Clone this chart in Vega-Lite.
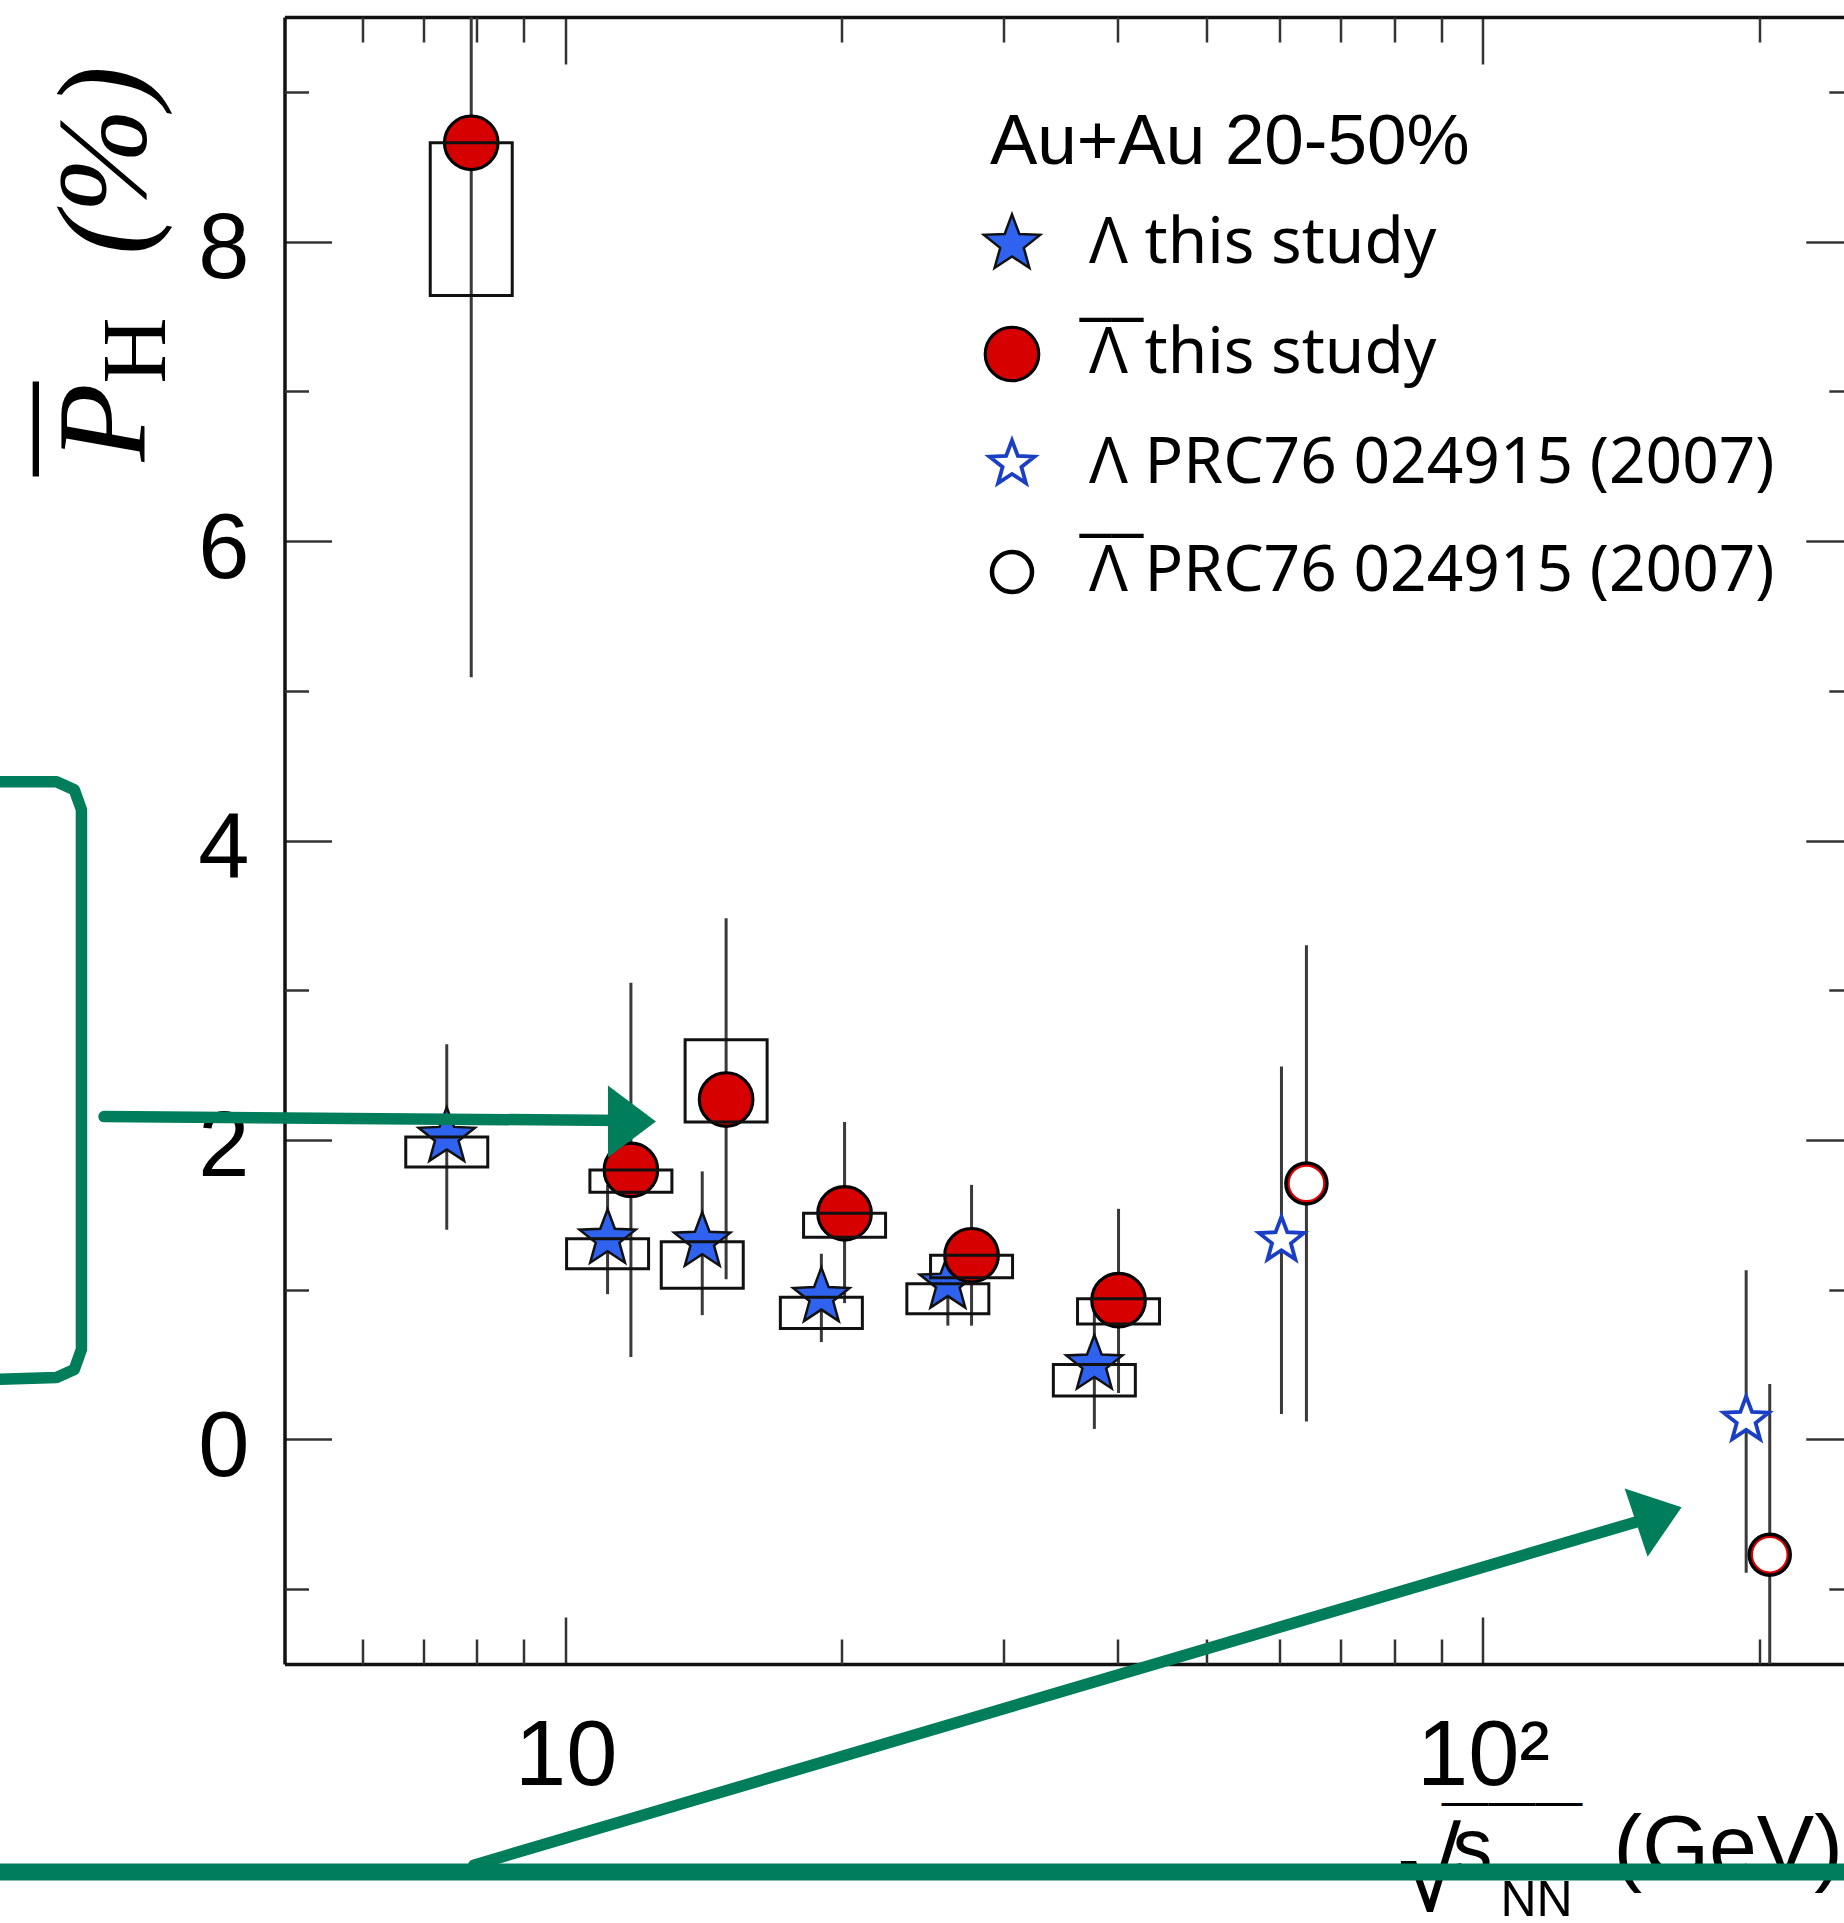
{
  "$schema": "https://vega.github.io/schema/vega-lite/v6.json",
  "autosize": {"type": "none"},
  "padding": {"left": 284.5, "top": 17, "right": 0, "bottom": 259},
  "width": 1559.5,
  "height": 1647,
  "background": "white",
  "datasets": {
    "pts": [
      {"series": "Λ this study", "e": 7.42, "P": 2.02, "lo": 1.40, "hi": 2.64, "slo": 1.82, "shi": 2.02},
      {"series": "Λ this study", "e": 11.11, "P": 1.34, "lo": 0.97, "hi": 1.70, "slo": 1.14, "shi": 1.34},
      {"series": "Λ this study", "e": 14.09, "P": 1.32, "lo": 0.83, "hi": 1.79, "slo": 1.01, "shi": 1.32},
      {"series": "Λ this study", "e": 19.0, "P": 0.95, "lo": 0.65, "hi": 1.24, "slo": 0.74, "shi": 0.95},
      {"series": "Λ this study", "e": 26.1, "P": 1.04, "lo": 0.76, "hi": 1.31, "slo": 0.84, "shi": 1.04},
      {"series": "Λ this study", "e": 37.7, "P": 0.50, "lo": 0.07, "hi": 0.92, "slo": 0.29, "shi": 0.50},
      {"series": "Λ̄ this study", "e": 7.89, "P": 8.66, "lo": 5.09, "hi": 12.23, "slo": 7.64, "shi": 8.66},
      {"series": "Λ̄ this study", "e": 11.78, "P": 1.80, "lo": 0.55, "hi": 3.05, "slo": 1.65, "shi": 1.80},
      {"series": "Λ̄ this study", "e": 14.96, "P": 2.27, "lo": 1.07, "hi": 3.48, "slo": 2.12, "shi": 2.67},
      {"series": "Λ̄ this study", "e": 20.14, "P": 1.51, "lo": 0.91, "hi": 2.12, "slo": 1.35, "shi": 1.51},
      {"series": "Λ̄ this study", "e": 27.7, "P": 1.23, "lo": 0.76, "hi": 1.70, "slo": 1.08, "shi": 1.23},
      {"series": "Λ̄ this study", "e": 40.06, "P": 0.93, "lo": 0.31, "hi": 1.54, "slo": 0.77, "shi": 0.94},
      {"series": "Λ PRC76 024915 (2007)", "e": 60.3, "P": 1.33, "lo": 0.17, "hi": 2.49},
      {"series": "Λ PRC76 024915 (2007)", "e": 193.6, "P": 0.13, "lo": -0.89, "hi": 1.13},
      {"series": "Λ̄ PRC76 024915 (2007)", "e": 64.2, "P": 1.71, "lo": 0.12, "hi": 3.30},
      {"series": "Λ̄ PRC76 024915 (2007)", "e": 205.4, "P": -0.77, "lo": -1.92, "hi": 0.37}
    ],
    "notes": [
      {"piece": "bracket", "k": 0, "e": 2.40, "P": 4.393},
      {"piece": "bracket", "k": 1, "e": 2.786, "P": 4.393},
      {"piece": "bracket", "k": 2, "e": 2.913, "P": 4.339},
      {"piece": "bracket", "k": 3, "e": 2.966, "P": 4.206},
      {"piece": "bracket", "k": 4, "e": 2.966, "P": 0.601},
      {"piece": "bracket", "k": 5, "e": 2.913, "P": 0.467},
      {"piece": "bracket", "k": 6, "e": 2.786, "P": 0.414},
      {"piece": "bracket", "k": 7, "e": 2.40, "P": 0.401},
      {"piece": "shaft1", "k": 0, "e": 3.139, "P": 2.156},
      {"piece": "shaft1", "k": 1, "e": 11.60, "P": 2.13},
      {"piece": "shaft2", "k": 0, "e": 7.94, "P": -2.844},
      {"piece": "shaft2", "k": 1, "e": 148.8, "P": -0.541}
    ],
    "baseline": [
      {"k": 0, "e": 2.40, "P": -2.89},
      {"k": 1, "e": 255, "P": -2.89}
    ],
    "heads": [
      {"which": "a", "e": 11.81, "P": 2.123},
      {"which": "b", "e": 155.5, "P": -0.504}
    ]
  },
  "layer": [
    {
      "description": "zero reference line",
      "mark": {"type": "rule", "stroke": "#555555", "strokeWidth": 3, "strokeDash": [10, 10]},
      "encoding": {
        "y": {
          "datum": 0, "type": "quantitative",
          "scale": {"domain": [-1.5, 9.5], "nice": false, "zero": false},
          "axis": {
            "orient": "left", "values": [0, 2, 4, 6, 8], "tickSize": -47, "labelPadding": 82.5,
            "labelFontSize": 92, "labelOffset": 8, "domain": true,
            "title": "(%)", "titleFont": "Liberation Serif", "titleFontStyle": "italic", "titleFontSize": 126,
            "titleAngle": -90, "titleAlign": "center", "titleBaseline": "alphabetic", "titleX": -140.5, "titleY": 143
          }
        }
      }
    },
    {
      "description": "statistical error bars",
      "data": {"name": "pts"},
      "mark": {"type": "rule", "stroke": "#3a3a3a", "strokeWidth": 3, "clip": true},
      "encoding": {
        "x": {
          "field": "e", "type": "quantitative",
          "scale": {"type": "log", "domain": [5, 244.4], "nice": false},
          "axis": {
            "orient": "bottom", "values": [10, 100], "tickSize": -47, "labelPadding": 94, "labelFontSize": 92,
            "labelExpr": "datum.value == 10 ? '10' : (datum.value == 100 ? '10²' : '')", "domain": true,
            "title": "(GeV)", "titleFont": "Liberation Sans", "titleFontSize": 86, "titleAngle": 0,
            "titleAlign": "left", "titleBaseline": "alphabetic", "titleX": 1328.5, "titleY": 210
          }
        },
        "y": {
          "field": "lo", "type": "quantitative",
          "scale": {"domain": [-1.5, 9.5], "nice": false, "zero": false},
          "axis": {
            "orient": "left", "values": [-1, 1, 3, 5, 7, 9], "tickSize": -24, "labels": false, "domain": false,
            "title": "H", "titleFont": "Liberation Serif", "titleFontSize": 92, "titleAngle": -90,
            "titleAlign": "center", "titleBaseline": "alphabetic", "titleX": -120.5, "titleY": 333
          }
        },
        "y2": {"field": "hi"}
      }
    },
    {
      "description": "markers, one shape and colour per series",
      "data": {"name": "pts"},
      "mark": {"type": "point", "filled": true, "opacity": 1},
      "encoding": {
        "x": {
          "field": "e", "type": "quantitative",
          "scale": {"type": "log", "domain": [5, 244.4], "nice": false},
          "axis": {
            "orient": "top", "values": [10, 100], "tickSize": -47, "labels": false, "domain": true,
            "title": "s", "titleFont": "Liberation Sans", "titleFontSize": 80, "titleAngle": 0,
            "titleAlign": "left", "titleBaseline": "alphabetic", "titleX": 1167.5, "titleY": 1856
          }
        },
        "y": {
          "field": "P", "type": "quantitative",
          "scale": {"domain": [-1.5, 9.5], "nice": false, "zero": false},
          "axis": {"orient": "right", "offset": 8.8, "values": [-1, 1, 3, 5, 7, 9], "tickSize": -24, "labels": false, "domain": false, "title": null}
        },
        "shape": {
          "field": "series", "type": "nominal", "title": "Au+Au 20-50%",
          "scale": {
            "domain": ["Λ this study", "Λ̄ this study", "Λ PRC76 024915 (2007)", "Λ̄ PRC76 024915 (2007)"],
            "range": [
              "M0,-1L0.2469,-0.3398L0.9511,-0.309L0.3995,0.1298L0.5878,0.809L0,0.42L-0.5878,0.809L-0.3995,0.1298L-0.9511,-0.309L-0.2469,-0.3398Z",
              "circle",
              "M0,-1L0.2469,-0.3398L0.9511,-0.309L0.3995,0.1298L0.5878,0.809L0,0.42L-0.5878,0.809L-0.3995,0.1298L-0.9511,-0.309L-0.2469,-0.3398Z",
              "circle"
            ]
          },
          "legend": {"orient": "none", "legendX": 705.5, "legendY": 91, "labelExpr": "replace(datum.label, '\u0304', '')"}
        },
        "fill": {
          "field": "series", "type": "nominal", "title": "Au+Au 20-50%",
          "scale": {
            "domain": ["Λ this study", "Λ̄ this study", "Λ PRC76 024915 (2007)", "Λ̄ PRC76 024915 (2007)"],
            "range": ["#2f62ee", "#d60000", "#ffffff", "#ffffff"]
          },
          "legend": {"orient": "none", "legendX": 705.5, "legendY": 91, "labelExpr": "replace(datum.label, '\u0304', '')"}
        },
        "stroke": {
          "field": "series", "type": "nominal", "title": "Au+Au 20-50%",
          "scale": {
            "domain": ["Λ this study", "Λ̄ this study", "Λ PRC76 024915 (2007)", "Λ̄ PRC76 024915 (2007)"],
            "range": ["#111111", "#000000", "#1b3fc4", "#000000"]
          },
          "legend": {"orient": "none", "legendX": 705.5, "legendY": 91, "labelExpr": "replace(datum.label, '\u0304', '')"}
        },
        "size": {
          "field": "series", "type": "nominal", "title": "Au+Au 20-50%",
          "scale": {
            "domain": ["Λ this study", "Λ̄ this study", "Λ PRC76 024915 (2007)", "Λ̄ PRC76 024915 (2007)"],
            "range": [3500, 1600, 3500, 1900]
          },
          "legend": {"orient": "none", "legendX": 705.5, "legendY": 91, "labelExpr": "replace(datum.label, '\u0304', '')"}
        },
        "strokeWidth": {
          "field": "series", "type": "nominal", "title": "Au+Au 20-50%",
          "scale": {
            "domain": ["Λ this study", "Λ̄ this study", "Λ PRC76 024915 (2007)", "Λ̄ PRC76 024915 (2007)"],
            "range": [2.5, 4.5, 4, 5.5]
          },
          "legend": {"orient": "none", "legendX": 705.5, "legendY": 91, "labelExpr": "replace(datum.label, '\u0304', '')"}
        }
      }
    },
    {
      "description": "overbars above the antiparticle legend labels",
      "data": {"name": "pts"},
      "mark": {"type": "point", "opacity": 0},
      "encoding": {
        "strokeDash": {
          "field": "series", "type": "nominal",
          "scale": {"domain": ["lambda", "antilambda", "lambda-2007", "antilambda-2007"], "range": [[1, 0], [1, 0], [1, 0], [1, 0]]},
          "legend": {
            "orient": "none", "legendX": 731, "legendY": 195, "title": null,
            "symbolOpacity": 0, "symbolType": "circle", "symbolSize": 100, "labelOffset": 0, "symbolOffset": 0,
            "labelExpr": "indexof(datum.value, 'anti') == 0 ? '‾‾' : ' '"
          }
        }
      }
    },
    {
      "description": "red inner ring of the open circles",
      "data": {"name": "pts"},
      "transform": [{"filter": "datum.series == 'Λ̄ PRC76 024915 (2007)'"}],
      "mark": {"type": "point", "shape": "circle", "filled": false, "stroke": "#e00000", "strokeWidth": 2, "size": 1260, "opacity": 1},
      "encoding": {
        "x": {
          "field": "e", "type": "quantitative",
          "scale": {"type": "log", "domain": [5, 244.4], "nice": false},
          "axis": {
            "orient": "top", "values": [6, 7, 8, 9, 20, 30, 40, 50, 60, 70, 80, 90, 200], "tickSize": -25,
            "labels": false, "domain": false,
            "title": "NN", "titleFont": "Liberation Sans", "titleFontSize": 50, "titleAngle": 0,
            "titleAlign": "left", "titleBaseline": "alphabetic", "titleX": 1215.5, "titleY": 1898
          }
        },
        "y": {
          "field": "P", "type": "quantitative",
          "scale": {"domain": [-1.5, 9.5], "nice": false, "zero": false},
          "axis": {
            "orient": "left", "ticks": false, "labels": false, "domain": false,
            "title": "P", "titleFont": "Liberation Serif", "titleFontStyle": "italic", "titleFontSize": 128,
            "titleAngle": -90, "titleAlign": "center", "titleBaseline": "alphabetic", "titleX": -140.5, "titleY": 405
          }
        }
      }
    },
    {
      "description": "systematic uncertainty boxes",
      "data": {"name": "pts"},
      "transform": [{"filter": "isValid(datum.slo)"}],
      "mark": {"type": "bar", "orient": "vertical", "width": 82, "fill": "transparent", "stroke": "#111111", "strokeWidth": 3},
      "encoding": {
        "x": {
          "field": "e", "type": "quantitative",
          "scale": {"type": "log", "domain": [5, 244.4], "nice": false},
          "axis": {
            "orient": "bottom", "values": [6, 7, 8, 9, 20, 30, 40, 50, 60, 70, 80, 90, 200], "tickSize": -25,
            "labels": false, "domain": false,
            "title": "√", "titleFont": "Liberation Sans", "titleFontSize": 115, "titleAngle": 0,
            "titleAlign": "left", "titleBaseline": "alphabetic", "titleX": 1113, "titleY": 246
          }
        },
        "y": {
          "field": "slo", "type": "quantitative",
          "scale": {"domain": [-1.5, 9.5], "nice": false, "zero": false},
          "axis": {"orient": "right", "offset": 8.8, "values": [0, 2, 4, 6, 8], "tickSize": -47, "labels": false, "domain": false, "title": null}
        },
        "y2": {"field": "shi"}
      }
    },
    {
      "description": "hand-drawn green bracket and arrow shafts",
      "data": {"name": "notes"},
      "mark": {"type": "line", "stroke": "#007d5a", "strokeWidth": 11.5, "strokeCap": "round", "strokeJoin": "round"},
      "encoding": {
        "x": {
          "field": "e", "type": "quantitative",
          "scale": {"type": "log", "domain": [5, 244.4], "nice": false},
          "axis": {
            "orient": "bottom", "ticks": false, "labels": false, "domain": false,
            "title": "———", "titleFont": "Liberation Sans", "titleFontSize": 47, "titleAngle": 0,
            "titleAlign": "left", "titleBaseline": "alphabetic", "titleX": 1156.5, "titleY": 151
          }
        },
        "y": {
          "field": "P", "type": "quantitative",
          "scale": {"domain": [-1.5, 9.5], "nice": false, "zero": false},
          "axis": {
            "orient": "left", "ticks": false, "labels": false, "domain": false,
            "title": "—", "titleFont": "Liberation Sans", "titleFontSize": 95, "titleAngle": -90,
            "titleAlign": "center", "titleBaseline": "alphabetic", "titleX": -225, "titleY": 411.5
          }
        },
        "detail": {"field": "piece", "type": "nominal"},
        "order": {"field": "k", "type": "quantitative"}
      }
    },
    {
      "description": "green underline along the bottom",
      "data": {"name": "baseline"},
      "mark": {"type": "line", "stroke": "#007d5a", "strokeWidth": 17},
      "encoding": {
        "x": {"field": "e", "type": "quantitative", "scale": {"type": "log", "domain": [5, 244.4], "nice": false}, "axis": null},
        "y": {"field": "P", "type": "quantitative", "scale": {"domain": [-1.5, 9.5], "nice": false, "zero": false}, "axis": null},
        "order": {"field": "k", "type": "quantitative"}
      }
    },
    {
      "description": "arrowhead of the upper arrow",
      "data": {"name": "heads"},
      "transform": [{"filter": "datum.which == 'a'"}],
      "mark": {"type": "point", "shape": "M0.6,0L-0.6,-0.9L-0.6,0.9Z", "filled": true, "fill": "#007d5a", "strokeWidth": 0, "size": 6400, "opacity": 1},
      "encoding": {
        "x": {"field": "e", "type": "quantitative", "scale": {"type": "log", "domain": [5, 244.4], "nice": false}, "axis": null},
        "y": {"field": "P", "type": "quantitative", "scale": {"domain": [-1.5, 9.5], "nice": false, "zero": false}, "axis": null}
      }
    },
    {
      "description": "arrowhead of the rising arrow",
      "data": {"name": "heads"},
      "transform": [{"filter": "datum.which == 'b'"}],
      "mark": {"type": "point", "shape": "M0.6,0L-0.6,-0.9L-0.6,0.9Z", "filled": true, "fill": "#007d5a", "strokeWidth": 0, "size": 6400, "angle": -18.6, "opacity": 1},
      "encoding": {
        "x": {"field": "e", "type": "quantitative", "scale": {"type": "log", "domain": [5, 244.4], "nice": false}, "axis": null},
        "y": {"field": "P", "type": "quantitative", "scale": {"domain": [-1.5, 9.5], "nice": false, "zero": false}, "axis": null}
      }
    }
  ],
  "resolve": {
    "axis": {"x": "independent", "y": "independent"}
  },
  "config": {
    "view": {"stroke": null},
    "axis": {
      "grid": false,
      "labelFont": "Liberation Sans",
      "labelColor": "#000000",
      "titleColor": "#000000",
      "titleFontWeight": "normal",
      "tickColor": "#333333",
      "tickWidth": 2.5,
      "domainColor": "#111111",
      "domainWidth": 3.5,
      "labelOverlap": false,
      "labelFlush": false
    },
    "legend": {
      "padding": 0,
      "titleFont": "Liberation Sans",
      "titleFontSize": 71,
      "titleFontWeight": "normal",
      "titleColor": "#000000",
      "titleBaseline": "top",
      "titlePadding": 33,
      "titleLimit": 1000,
      "labelFont": "Noto Sans",
      "labelFontSize": 64,
      "labelColor": "#000000",
      "labelLimit": 1000,
      "labelOffset": 45,
      "rowPadding": 44,
      "symbolOffset": -10,
      "symbolStrokeWidth": 3.5
    }
  }
}
